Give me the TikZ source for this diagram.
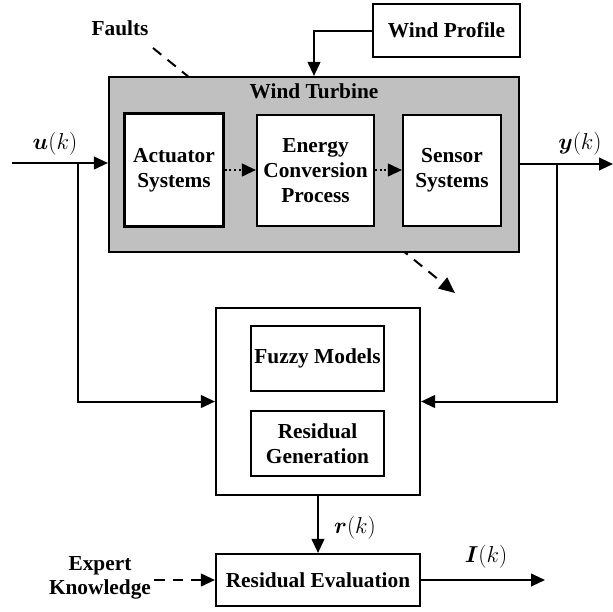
\documentclass[tikz,border=0pt]{standalone}
\usepackage{fontspec}
\usepackage{amsmath,bm}
\setmainfont{Liberation Serif}
\usetikzlibrary{arrows.meta}
\definecolor{turbgray}{RGB}{192,192,192}
\tikzset{
  blk/.style={draw=black, line width=1.6pt, fill=white, align=center, inner sep=0pt,
    font=\fontsize{16pt}{19pt}\selectfont\bfseries},
  lbl/.style={align=center, inner sep=0pt, font=\fontsize{16pt}{17.5pt}\selectfont\bfseries},
  mlbl/.style={inner sep=0pt, font=\fontsize{16pt}{18pt}\selectfont},
  ln/.style={line width=1.5pt},
  arr/.style={ln, -{Triangle[length=10.5pt,width=9.5pt]}},
  dotarr/.style={line width=1.5pt, dotted, -{Triangle[length=10.5pt,width=9.5pt]}},
  dasharr/.style={line width=1.5pt, dash pattern=on 8pt off 6pt, -{Triangle[length=12pt,width=10.5pt]}}
}
\begin{document}
\begin{tikzpicture}[x=0.75pt,y=-0.75pt]
\useasboundingbox (0,0) rectangle (613,611);
% fault line (behind the turbine box)
\coordinate (f1) at (153,48);
\coordinate (f2) at (455,293);
\draw[dasharr] (f1) -- (f2);
% nodes
\node[blk, minimum width=147*0.75pt, minimum height=53*0.75pt] (wp) at (446.5,30.5) {Wind Profile};
\node[draw=black, line width=1.6pt, fill=turbgray, minimum width=410*0.75pt, minimum height=175*0.75pt, inner sep=0pt] (turb) at (314,164.5) {};
\node[lbl] (tlabel) at (314,91) {Wind Turbine};
\node[blk, minimum width=99*0.75pt, minimum height=113*0.75pt] (act) at (174,170) {Actuator\\Systems};
\node[blk, minimum width=117*0.75pt, minimum height=111*0.75pt] (ecp) at (315.5,170.5) {Energy\\Conversion\\Process};
\node[blk, minimum width=98*0.75pt, minimum height=111*0.75pt] (sen) at (452,170.5) {Sensor\\Systems};
\node[blk, minimum width=204*0.75pt, minimum height=187*0.75pt] (ctr) at (318,401.5) {};
\node[blk, minimum width=133*0.75pt, minimum height=65*0.75pt] (fuz) at (317.5,358.5) {Fuzzy Models};
\node[blk, minimum width=133*0.75pt, minimum height=65*0.75pt] (rgen) at (317.5,443.5) {Residual\\Generation};
\node[blk, minimum width=204*0.75pt, minimum height=52*0.75pt] (rev) at (318,580) {Residual Evaluation};
% labels
\node[lbl] (faults) at (120,28) {Faults};
\node[mlbl] (ulab) at (55,144) {$\bm{u}(k)$};
\node[mlbl] (ylab) at (580,144) {$\bm{y}(k)$};
\node[mlbl] (rlab) at (355,528) {$\bm{r}(k)$};
\node[mlbl] (ilab) at (486,557) {$\bm{I}(k)$};
\node[lbl] (expert) at (100,578) {Expert\\Knowledge};
% coordinates
\coordinate (uin) at (12,163);
\coordinate (ub) at (78,163);
\coordinate (yb) at (557,164);
\coordinate (yout) at (613,164);
\coordinate (ein) at (154,580);
\coordinate (iout) at (545,580);
% connectors
\draw[arr] (wp.west) -| (turb.north);
\draw[arr] (uin) -- (uin -| turb.west);
\draw[arr] (ub) |- (ctr.west);
\draw[arr] (yout -| turb.east) -- (yout);
\draw[arr] (yb) |- (ctr.east);
\draw[dotarr] (act.east |- 0,170) -- (ecp.west |- 0,170);
\draw[dotarr] (ecp.east |- 0,170) -- (sen.west |- 0,170);
\draw[arr] (ctr.south) -- (rev.north);
\draw[ln, dash pattern=on 8pt off 6pt, -{Triangle[length=10.5pt,width=9.5pt]}] (ein) -- (rev.west);
\draw[arr] (rev.east) -- (iout);
\end{tikzpicture}
\end{document}
